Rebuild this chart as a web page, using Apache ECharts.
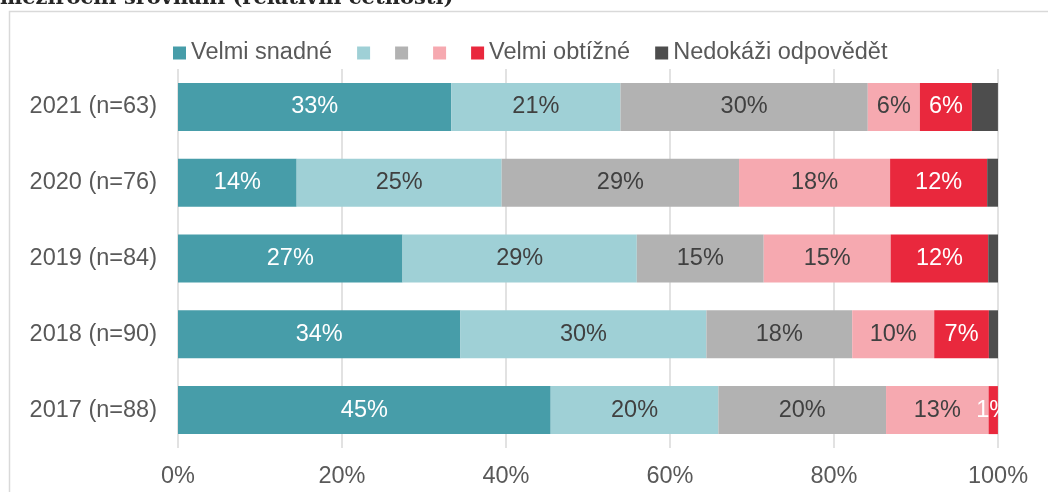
<!DOCTYPE html>
<html>
<head>
<meta charset="utf-8">
<script src="https://cdn.jsdelivr.net/npm/echarts@6/dist/echarts.min.js"></script>
<style>
html,body{margin:0;padding:0;background:#fff;}
#chart{width:1048px;height:492px;}
</style>
</head>
<body>
<div id="chart"></div>
<script>
const categories = ['2021 (n=63)', '2020 (n=76)', '2019 (n=84)', '2018 (n=90)', '2017 (n=88)'];
const seriesKeys = ['Velmi snadné', 's2', 's3', 's4', 'Velmi obtížné', 'Nedokáži odpovědět'];
const legendLabels = ['Velmi snadné', '', '', '', 'Velmi obtížné', 'Nedokáži odpovědět'];
const velmiSnadne = [33.33, 14.47, 27.38, 34.44, 45.45];
const snadne = [20.63, 25.00, 28.57, 30.00, 20.45];
const stredni = [30.16, 28.95, 15.48, 17.78, 20.45];
const obtizne = [6.35, 18.42, 15.48, 10.00, 12.50];
const velmiObtizne = [6.35, 11.84, 11.90, 6.67, 1.14];
const nedokazi = [3.17, 1.32, 1.19, 1.11, 0];
const xTicks = [0, 20, 40, 60, 80, 100];

const colors = ['#479DA9', '#9FD0D6', '#B2B2B2', '#F6A9B0', '#E9283D', '#4D4D4D'];
const labelColors = ['#ffffff', '#404040', '#404040', '#404040', '#ffffff', '#ffffff'];
const dataSets = [velmiSnadne, snadne, stredni, obtizne, velmiObtizne, nedokazi];
const FONT = '"Liberation Sans", Arial, sans-serif';

const chart = echarts.init(document.getElementById('chart'));
const series = dataSets.map((d, i) => ({
  name: seriesKeys[i],
  type: 'bar',
  stack: 'total',
  barWidth: 48,
  data: d,
  itemStyle: { color: colors[i] },
  label: {
    show: i < 5,
    position: 'inside',
    color: labelColors[i],
    fontSize: 23.5,
    fontFamily: FONT,
    formatter: p => p.value > 0 ? Math.round(p.value) + '%' : ''
  },
  emphasis: { disabled: true },
  animation: false
}));

chart.setOption({
  animation: false,
  color: colors,
  grid: { left: 178, right: 50, top: 69, bottom: 44, containLabel: false },
  legend: {
    data: seriesKeys,
    left: 168,
    top: 36,
    itemWidth: 13,
    itemHeight: 13,
    itemGap: 25,
    icon: 'rect',
    formatter: name => legendLabels[seriesKeys.indexOf(name)],
    textStyle: { fontSize: 23.5, fontFamily: FONT, color: '#595959' }
  },
  xAxis: {
    type: 'value',
    min: 0,
    max: 100,
    interval: 20,
    axisLine: { show: false },
    axisTick: { show: false },
    splitLine: { show: true, lineStyle: { color: '#D9D9D9', width: 1.5 } },
    axisLabel: {
      margin: 17,
      fontSize: 23.5,
      fontFamily: FONT,
      color: '#595959',
      formatter: v => xTicks.includes(v) ? v + '%' : ''
    }
  },
  yAxis: {
    type: 'category',
    data: categories,
    inverse: true,
    axisLine: { show: false },
    axisTick: { show: false },
    axisLabel: { margin: 21, fontSize: 23.5, fontFamily: FONT, color: '#595959' }
  },
  series: series,
  graphic: [
    {
      type: 'rect',
      z: 100,
      silent: true,
      shape: { x: 999.5, y: 70, width: 60, height: 380 },
      style: { fill: '#ffffff' }
    },
    {
      type: 'rect',
      z: 101,
      silent: true,
      shape: { x: 9.5, y: 11.5, width: 1100, height: 600 },
      style: { fill: 'none', stroke: '#D9D9D9', lineWidth: 1.5 }
    },
    {
      type: 'text',
      z: 102,
      silent: true,
      style: {
        x: 0,
        y: -1,
        text: 'meziroční srovnání (relativní četnosti)',
        font: 'bold 21px "DejaVu Serif", serif',
        fill: '#262626',
        verticalAlign: 'middle'
      }
    }
  ]
});
</script>
</body>
</html>
